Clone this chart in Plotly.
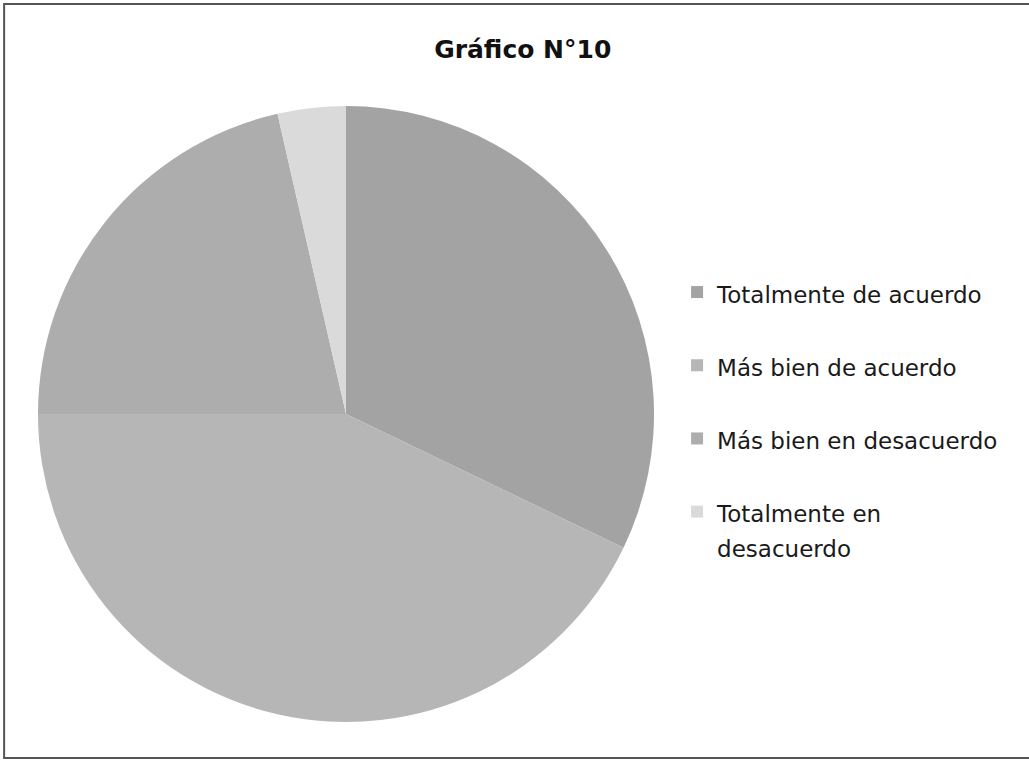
import plotly.graph_objects as go

# Datos del gráfico N°10
categorias = [
    "Totalmente de acuerdo",
    "Más bien de acuerdo",
    "Más bien en desacuerdo",
    "Totalmente en<br>desacuerdo",
]
valores = [9, 12, 6, 1]
colores = ["#a3a3a3", "#b6b6b6", "#adadad", "#dadada"]

# etiquetas de leyenda (span para el tamaño del texto, salto para el espaciado)
etiquetas = []
for c in categorias:
    if "<br>" in c:
        partes = c.split("<br>")
        etiquetas.append("<br>".join(f'<span style="font-size:23px">{p}</span>' for p in partes))
    else:
        etiquetas.append(f'<span style="font-size:23px">{c}</span><br> ')

fig = go.Figure(go.Pie(
    labels=etiquetas,
    values=valores,
    sort=False,
    direction="clockwise",
    rotation=0,
    textinfo="none",
    hoverinfo="label+percent",
    marker=dict(colors=colores, line=dict(width=0)),
    domain=dict(x=[0.0369, 0.6356], y=[0.0537, 0.8611]),
))

fig.update_layout(
    width=1029,
    height=763,
    margin=dict(l=0, r=0, t=0, b=0),
    paper_bgcolor="white",
    font=dict(family="DejaVu Sans", color="#1a1a1a"),
    title=dict(
        text="<b>Gráfico N°10</b>",
        x=0.508, xanchor="center",
        y=1 - 49 / 763, yanchor="middle",
        font=dict(size=25, family="DejaVu Sans", color="#111111"),
    ),
    legend=dict(
        x=0.658, xanchor="left",
        y=1 - 268 / 763, yanchor="top",
        font=dict(size=27, family="DejaVu Sans", color="#1a1a1a"),
        valign="top",
        bgcolor="rgba(0,0,0,0)",
    ),
    shapes=[dict(
        type="rect", xref="paper", yref="paper",
        x0=0.004, x1=1.01, y0=5 / 763, y1=1 - 4 / 763,
        line=dict(color="#555555", width=2),
    )],
)

# quitar el margen por defecto del body para que la figura empiece en (0, 0)
fig.write_html(
    "out.html",
    config={"displayModeBar": False},
    post_script="document.body.style.margin='0';",
)
